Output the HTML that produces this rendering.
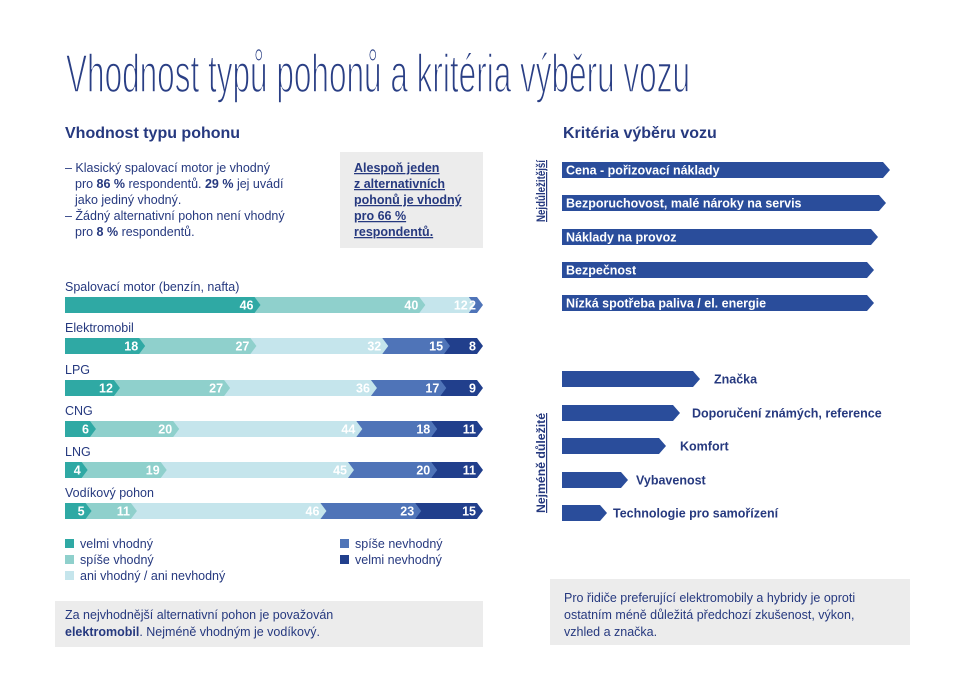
<!DOCTYPE html>
<html><head><meta charset="utf-8"><style>
html,body{margin:0;padding:0;background:#fff;}
svg{display:block;font-family:"Liberation Sans",sans-serif;}
</style></head><body>
<svg width="964" height="682" viewBox="0 0 964 682" xmlns="http://www.w3.org/2000/svg">
<rect width="964" height="682" fill="#fff"/>
<text x="66" y="92" font-size="54" fill="#2a3f85" textLength="624" lengthAdjust="spacingAndGlyphs" stroke="#fff" stroke-width="1.6">Vhodnost typů pohonů a kritéria výběru vozu</text>
<text x="65" y="138" font-size="16" font-weight="bold" fill="#26397f">Vhodnost typu pohonu</text>
<text x="563" y="138" font-size="16" font-weight="bold" fill="#26397f">Kritéria výběru vozu</text>
<g font-size="12.5" fill="#26397f">
<text x="65" y="172">– Klasický spalovací motor je vhodný</text>
<text x="75" y="188">pro <tspan font-weight="bold">86 %</tspan> respondentů. <tspan font-weight="bold">29 %</tspan> jej uvádí</text>
<text x="75" y="204">jako jediný vhodný.</text>
<text x="65" y="220">– Žádný alternativní pohon není vhodný</text>
<text x="75" y="236">pro <tspan font-weight="bold">8 %</tspan> respondentů.</text>
</g>
<rect x="340" y="152" width="143" height="96" fill="#ececec"/>
<g font-size="12.5" font-weight="bold" fill="#26397f" text-decoration="underline">
<text x="354" y="172">Alespoň jeden</text>
<text x="354" y="188">z alternativních</text>
<text x="354" y="204">pohonů je vhodný</text>
<text x="354" y="220">pro 66 %</text>
<text x="354" y="236">respondentů.</text>
</g>
<g id="bars"></g>
<g font-size="12.5" fill="#26397f">
<rect x="65" y="539" width="9" height="9" fill="#2fa9a4"/><text x="80" y="548">velmi vhodný</text>
<rect x="65" y="555" width="9" height="9" fill="#8fd0cc"/><text x="80" y="564">spíše vhodný</text>
<rect x="65" y="571" width="9" height="9" fill="#c5e5ec"/><text x="80" y="580">ani vhodný / ani nevhodný</text>
<rect x="340" y="539" width="9" height="9" fill="#4f74b8"/><text x="355" y="548">spíše nevhodný</text>
<rect x="340" y="555" width="9" height="9" fill="#213f8c"/><text x="355" y="564">velmi nevhodný</text>
</g>
<rect x="55" y="601" width="428" height="46" fill="#ececec"/>
<g font-size="12.5" fill="#26397f">
<text x="65" y="619">Za nejvhodnější alternativní pohon je považován</text>
<text x="65" y="636"><tspan font-weight="bold">elektromobil</tspan>. Nejméně vhodným je vodíkový.</text>
</g>
<rect x="550" y="579" width="360" height="66" fill="#ececec"/>
<g font-size="12.5" fill="#26397f">
<text x="564" y="602">Pro řidiče preferující elektromobily a hybridy je oproti</text>
<text x="564" y="619">ostatním méně důležitá předchozí zkušenost, výkon,</text>
<text x="564" y="636">vzhled a značka.</text>
</g>
<g font-size="12" font-weight="bold" fill="#26397f">
<text transform="translate(545,222) rotate(-90)" text-decoration="underline" textLength="62" lengthAdjust="spacingAndGlyphs">Nejdůležitější</text>
<text transform="translate(545,513) rotate(-90)" text-decoration="underline" textLength="100" lengthAdjust="spacingAndGlyphs">Nejméně důležité</text>
</g>
<g id="crit"></g>
<script>
(function(){
var ns="http://www.w3.org/2000/svg";
function el(p,t,a,txt){var e=document.createElementNS(ns,t);for(var k in a)e.setAttribute(k,a[k]);if(txt!=null)e.textContent=txt;p.appendChild(e);return e;}
var cols=["#2fa9a4","#8fd0cc","#c5e5ec","#4f74b8","#213f8c"];
var rows=[["Spalovací motor (benzín, nafta)",[46,40,12,2,0]],["Elektromobil",[18,27,32,15,8]],["LPG",[12,27,36,17,9]],["CNG",[6,20,44,18,11]],["LNG",[4,19,45,20,11]],["Vodíkový pohon",[5,11,46,23,15]]];
var g=document.getElementById("bars");
var ys=[297,338,380,421,462,503];var X0=65,W=412,H=16,P=6;
rows.forEach(function(r,i){
 var y=ys[i];
 el(g,"text",{x:65,y:y-6,"font-size":12.5,fill:"#26397f"},r[0]);
 var tot=r[1].reduce(function(a,b){return a+b},0);
 var segs=[];var cum=0;
 r[1].forEach(function(v,j){if(v>0){segs.push([j,cum,cum+v,v]);}cum+=v;});
 for(var k=segs.length-1;k>=0;k--){
  var s=segs[k];var x1=X0+W*s[1]/tot,x2=X0+W*s[2]/tot;
  el(g,"polygon",{points:x1+","+y+" "+x2+","+y+" "+(x2+P)+","+(y+H/2)+" "+x2+","+(y+H)+" "+x1+","+(y+H),fill:cols[s[0]]});
 }
 segs.forEach(function(s){var x2=X0+W*s[2]/tot;
  el(g,"text",{x:x2-1,y:y+12.5,"font-size":12.5,"font-weight":"bold",fill:"#fff","text-anchor":"end"},s[3]);});
});
var c=document.getElementById("crit");
var topItems=[["Cena - pořizovací náklady",162,890],["Bezporuchovost, malé nároky na servis",195,886],["Náklady na provoz",229,878],["Bezpečnost",262,874],["Nízká spotřeba paliva / el. energie",295,874]];
topItems.forEach(function(t){var y=t[1],e=t[2];
 el(c,"polygon",{points:"562,"+y+" "+(e-7)+","+y+" "+e+","+(y+8)+" "+(e-7)+","+(y+16)+" 562,"+(y+16),fill:"#2a4d9b"});
 el(c,"text",{x:566,y:y+12.5,"font-size":12.5,"font-weight":"bold",fill:"#fff"},t[0]);});
var bot=[["Značka",371,700,714],["Doporučení známých, reference",405,680,692],["Komfort",438,666,680],["Vybavenost",472,628,636],["Technologie pro samořízení",505,607,613]];
bot.forEach(function(t){var y=t[1],e=t[2];
 el(c,"polygon",{points:"562,"+y+" "+(e-7)+","+y+" "+e+","+(y+8)+" "+(e-7)+","+(y+16)+" 562,"+(y+16),fill:"#2a4d9b"});
 el(c,"text",{x:t[3],y:y+12.5,"font-size":12.5,"font-weight":"bold",fill:"#26397f"},t[0]);});
})();
</script>
</svg>
</body></html>
